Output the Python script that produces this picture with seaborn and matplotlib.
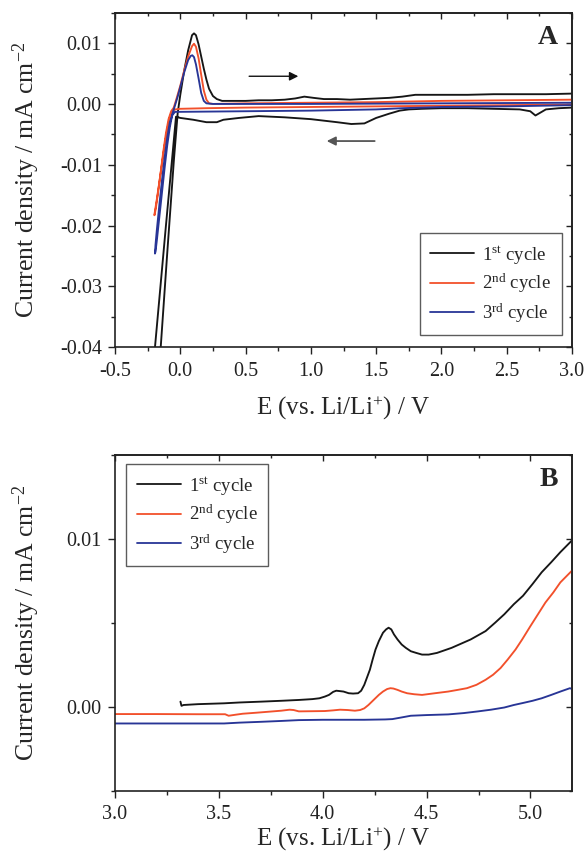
#!/usr/bin/env python
"""
cyclic voltammetry (A) and anodic sweep (B) of three cycles, two stacked panels
"""

import numpy as np
import pandas as pd
import seaborn as sns
import matplotlib
matplotlib.use("Agg")
import matplotlib.pyplot as plt
from matplotlib.ticker import MultipleLocator, FormatStrFormatter

## ---- data ----

CYCLE_LABELS = ["1$^{\\mathrm{st}}$ cycle", "2$^{\\mathrm{nd}}$ cycle", "3$^{\\mathrm{rd}}$ cycle"]
CYCLE_COLORS = ["#161616", "#f2502b", "#283596"]

## panel A, each cycle: cathodic sweep 3.0 -> -0.2 V, then anodic back to 3.0 V
A_E_1 = [3.0, 2.9, 2.8, 2.76, 2.72, 2.68, 2.6, 2.4, 2.2, 2.0, 1.85, 1.75, 1.68, 1.6, 1.5,
         1.41, 1.31, 1.2, 1.0, 0.8, 0.6, 0.45, 0.33, 0.28, 0.2, 0.1, 0.0, -0.033, -0.11,
         -0.194, -0.205,
         -0.2, -0.15, -0.1, -0.05, -0.02, 0.0, 0.03, 0.06, 0.09, 0.105, 0.12, 0.14, 0.16,
         0.18, 0.2, 0.22, 0.25, 0.28, 0.32, 0.4, 0.5, 0.6, 0.7, 0.8, 0.88, 0.95, 1.02, 1.1,
         1.2, 1.3, 1.4, 1.5, 1.6, 1.7, 1.8, 1.9, 2.0, 2.2, 2.4, 2.6, 2.8, 3.0]
A_J_1 = [-0.0006, -0.0007, -0.0009, -0.0014, -0.0019, -0.0012, -0.0009, -0.0008, -0.0007,
         -0.0007, -0.0008, -0.0009, -0.0011, -0.0016, -0.0023, -0.0032, -0.0033, -0.003,
         -0.0025, -0.0022, -0.002, -0.0023, -0.0026, -0.003, -0.003, -0.0026, -0.0023,
         -0.0021, -0.02, -0.04, -0.043,
         -0.055, -0.04, -0.0245, -0.0095, -0.0015, 0.0015, 0.0055, 0.0088, 0.0113, 0.0116,
         0.0113, 0.0098, 0.0078, 0.0058, 0.004, 0.0025, 0.0013, 0.0008, 0.0005, 0.0005,
         0.0005, 0.0006, 0.0006, 0.0007, 0.0009, 0.0012, 0.001, 0.0008, 0.0008, 0.0007,
         0.0008, 0.0009, 0.001, 0.0012, 0.0015, 0.0015, 0.0015, 0.0015, 0.0016, 0.0016,
         0.0016, 0.0017]

A_E_2 = [3.0, 2.5, 2.0, 1.5, 1.0, 0.5, 0.2, 0.0, -0.04, -0.06, -0.08, -0.1, -0.12, -0.14,
         -0.16, -0.18, -0.193, -0.199,
         -0.196, -0.185, -0.17, -0.15, -0.13, -0.11, -0.09, -0.07, -0.05, -0.03, 0.0, 0.03,
         0.06, 0.09, 0.105, 0.12, 0.14, 0.16, 0.18, 0.2, 0.22, 0.25, 0.5, 1.0, 1.5, 2.0,
         2.5, 3.0]
A_J_2 = [-0.0001, -0.0002, -0.0003, -0.0004, -0.0005, -0.0006, -0.0007, -0.0008, -0.0009,
         -0.0012, -0.0022, -0.0042, -0.0068, -0.0098, -0.0128, -0.0157, -0.0175, -0.0183,
         -0.0182, -0.0168, -0.0145, -0.0112, -0.0078, -0.0048, -0.0025, -0.0012, -0.0006,
         0.0008, 0.003, 0.0055, 0.0078, 0.0095, 0.0099, 0.0094, 0.0075, 0.0048, 0.0022,
         0.0007, 0.0001, 0.0, 0.0001, 0.0002, 0.0003, 0.0005, 0.0006, 0.0007]

A_E_3 = [3.0, 2.5, 2.0, 1.7, 1.5, 1.0, 0.5, 0.0, -0.04, -0.06, -0.08, -0.1, -0.12, -0.14,
         -0.16, -0.18, -0.19, -0.194,
         -0.19, -0.18, -0.16, -0.14, -0.12, -0.1, -0.08, -0.06, -0.04, -0.02, 0.0, 0.03,
         0.06, 0.08, 0.092, 0.105, 0.12, 0.14, 0.16, 0.18, 0.2, 0.25, 0.5, 1.0, 2.0, 3.0]
A_J_3 = [-0.0002, -0.0004, -0.0005, -0.0007, -0.0009, -0.0011, -0.0012, -0.0013, -0.0013,
         -0.0018, -0.003, -0.0055, -0.0088, -0.0125, -0.0165, -0.0208, -0.0232, -0.0246,
         -0.0243, -0.0225, -0.0185, -0.0145, -0.0105, -0.0068, -0.0038, -0.0016, -0.0002,
         0.0012, 0.0028, 0.0052, 0.0072, 0.0079, 0.008, 0.0077, 0.0065, 0.0042, 0.0018,
         0.0005, 0.0001, 0.0, 0.0, 0.0, 0.0001, 0.0002]

## panel B, anodic sweep to 5.2 V
B_E_1 = [3.315, 3.32, 3.33, 3.4, 3.525, 3.6, 3.705, 3.8, 3.885, 3.95, 3.984, 4.01, 4.03,
         4.05, 4.065, 4.08, 4.1, 4.125, 4.146, 4.17, 4.185, 4.2, 4.215, 4.227, 4.24, 4.254,
         4.27, 4.29, 4.305, 4.317, 4.33, 4.343, 4.36, 4.38, 4.4, 4.424, 4.45, 4.478, 4.51,
         4.55, 4.62, 4.712, 4.784, 4.83, 4.874, 4.92, 4.964, 5.01, 5.054, 5.1, 5.144, 5.2]
B_J_1 = [0.0003, 0.00005, 0.0001, 0.00015, 0.0002, 0.00025, 0.0003, 0.00035, 0.0004,
         0.00045, 0.0005, 0.0006, 0.0007, 0.00088, 0.00095, 0.00093, 0.0009, 0.0008,
         0.00078, 0.0008, 0.00095, 0.0013, 0.0018, 0.0022, 0.0028, 0.0034, 0.0039, 0.0044,
         0.0046, 0.0047, 0.0046, 0.0043, 0.004, 0.0037, 0.0035, 0.0033, 0.0032, 0.0031,
         0.0031, 0.0032, 0.0035, 0.004, 0.0045, 0.005, 0.0055, 0.0061, 0.0066, 0.0073,
         0.008, 0.0086, 0.0092, 0.0099]

B_E_2 = [3.0, 3.2, 3.4, 3.53, 3.547, 3.58, 3.615, 3.68, 3.74, 3.8, 3.84, 3.86, 3.885, 3.95,
         4.01, 4.05, 4.083, 4.12, 4.155, 4.18, 4.2, 4.22, 4.245, 4.27, 4.29, 4.31, 4.326,
         4.34, 4.36, 4.38, 4.406, 4.44, 4.478, 4.54, 4.604, 4.65, 4.694, 4.74, 4.784, 4.82,
         4.856, 4.89, 4.928, 4.96, 5.0, 5.036, 5.072, 5.11, 5.144, 5.2]
B_J_2 = [-0.00044, -0.00044, -0.00045, -0.00045, -0.00054, -0.00048, -0.00042, -0.00036,
         -0.0003, -0.00024, -0.00018, -0.0002, -0.00028, -0.00027, -0.00026, -0.00022,
         -0.00018, -0.0002, -0.00024, -0.0002, -0.0001, 0.0001, 0.0004, 0.0007, 0.0009,
         0.00105, 0.0011, 0.00108, 0.001, 0.0009, 0.0008, 0.00074, 0.0007, 0.0008, 0.0009,
         0.001, 0.0011, 0.0013, 0.0016, 0.0019, 0.0023, 0.0028, 0.0034, 0.004, 0.0048,
         0.0055, 0.0062, 0.0068, 0.0074, 0.0081]

B_E_3 = [3.0, 3.2, 3.4, 3.525, 3.6, 3.705, 3.8, 3.885, 4.0, 4.1, 4.2, 4.3, 4.335, 4.38,
         4.424, 4.5, 4.604, 4.68, 4.748, 4.81, 4.874, 4.92, 4.964, 5.01, 5.054, 5.1, 5.144,
         5.19, 5.2]
B_J_3 = [-0.001, -0.001, -0.001, -0.001, -0.00095, -0.0009, -0.00085, -0.0008, -0.00078,
         -0.00078, -0.00078, -0.00076, -0.00074, -0.00064, -0.00054, -0.0005, -0.00046,
         -0.00038, -0.00028, -0.00018, -0.00005, 0.0001, 0.00022, 0.00035, 0.0005, 0.0007,
         0.0009, 0.0011, 0.00105]

## ---- style ----
sns.set_theme(style="ticks")
plt.rcParams.update({
    "font.family": ["Liberation Serif", "DejaVu Serif"],
    "mathtext.fontset": "custom",
    "mathtext.rm": "Liberation Serif",
    "mathtext.it": "Liberation Serif:italic",
    "mathtext.bf": "Liberation Serif:bold",
    "axes.unicode_minus": False,
    "axes.linewidth": 1.2,
    "axes.edgecolor": "#222222",
    "xtick.color": "#222222",
    "ytick.color": "#222222",
})


def style_axes(ax, xmaj, xmin, ymaj, ymin, xfmt, yfmt):
    ax.xaxis.set_major_locator(MultipleLocator(xmaj))
    ax.xaxis.set_minor_locator(MultipleLocator(xmin))
    ax.yaxis.set_major_locator(MultipleLocator(ymaj))
    ax.yaxis.set_minor_locator(MultipleLocator(ymin))
    ax.xaxis.set_major_formatter(FormatStrFormatter(xfmt))
    ax.yaxis.set_major_formatter(FormatStrFormatter(yfmt))
    ax.tick_params(which="both", direction="out", labelsize=14.5, width=1.0)
    ax.tick_params(which="major", length=5)
    ax.tick_params(which="minor", length=3)
    ax.tick_params(axis="x", pad=5.5)
    ax.tick_params(axis="y", pad=4.5)
    ## inward ticks on top and right, no labels
    top = ax.secondary_xaxis("top")
    top.xaxis.set_major_locator(MultipleLocator(xmaj))
    top.xaxis.set_minor_locator(MultipleLocator(xmin))
    top.tick_params(which="both", direction="in", labeltop=False, width=1.0)
    top.tick_params(which="major", length=4)
    top.tick_params(which="minor", length=2.5)
    right = ax.secondary_yaxis("right")
    right.yaxis.set_major_locator(MultipleLocator(ymaj))
    right.yaxis.set_minor_locator(MultipleLocator(ymin))
    right.tick_params(which="both", direction="in", labelright=False, width=1.0)
    right.tick_params(which="major", length=4)
    right.tick_params(which="minor", length=2.5)
    ax.set_xlabel("E (vs. Li/Li$^{+}$) / V", fontsize=18)
    ax.set_ylabel("Current density / mA cm$^{\\mathrm{-2}}$", fontsize=18.5)


def draw_cycles(ax, curves):
    for (E, J), label, color in zip(curves, CYCLE_LABELS, CYCLE_COLORS):
        df = pd.DataFrame({"E": E, "J": J})
        sns.lineplot(data=df, x="E", y="J", sort=False, estimator=None,
                     color=color, lw=1.35, label=label, ax=ax)


def add_legend(ax, **kw):
    leg = ax.legend(fontsize=13.5, frameon=True, fancybox=False, handlelength=2.35,
                    handletextpad=0.45, labelspacing=0.32, borderpad=0.55,
                    borderaxespad=0.0, **kw)
    leg.get_frame().set_edgecolor("#333333")
    leg.get_frame().set_linewidth(1.0)
    for line in leg.get_lines():
        line.set_linewidth(1.3)


fig = plt.figure(figsize=(5.85, 8.51), dpi=100)
axA = fig.add_axes([0.1966, 0.5919, 0.7812, 0.3932])
axB = fig.add_axes([0.1966, 0.0709, 0.7812, 0.3948])

## panel A
draw_cycles(axA, [(A_E_1, A_J_1), (A_E_2, A_J_2), (A_E_3, A_J_3)])
axA.set_xlim(-0.5, 3.0)
axA.set_ylim(-0.04, 0.015)
style_axes(axA, 0.5, 0.25, 0.01, 0.005, "%.1f", "%.2f")
axA.annotate("", xy=(0.925, 0.00455), xytext=(0.506, 0.00455),
             arrowprops=dict(arrowstyle="-|>", color="#111111", lw=1.0, mutation_scale=13))
axA.annotate("", xy=(1.10, -0.0061), xytext=(1.51, -0.0061),
             arrowprops=dict(arrowstyle="-|>", color="#555555", lw=1.3, mutation_scale=13))
axA.text(0.969, 0.927, "A", transform=axA.transAxes, fontsize=20, fontweight="bold",
         ha="right", va="center")
add_legend(axA, loc="lower right", bbox_to_anchor=(0.977, 0.037))

## panel B
draw_cycles(axB, [(B_E_1, B_J_1), (B_E_2, B_J_2), (B_E_3, B_J_3)])
axB.set_xlim(3.0, 5.2)
axB.set_ylim(-0.005, 0.015)
style_axes(axB, 0.5, 0.25, 0.01, 0.005, "%.1f", "%.2f")
axB.text(0.969, 0.925, "B", transform=axB.transAxes, fontsize=20, fontweight="bold",
         ha="right", va="center")
add_legend(axB, loc="upper left", bbox_to_anchor=(0.025, 0.971))

for ax in (axA, axB):
    ax.yaxis.set_label_coords(-0.16, 0.5)
axA.xaxis.set_label_coords(0.5, -0.14)
axB.xaxis.set_label_coords(0.5, -0.102)

fig.savefig("out.png", dpi=100)
